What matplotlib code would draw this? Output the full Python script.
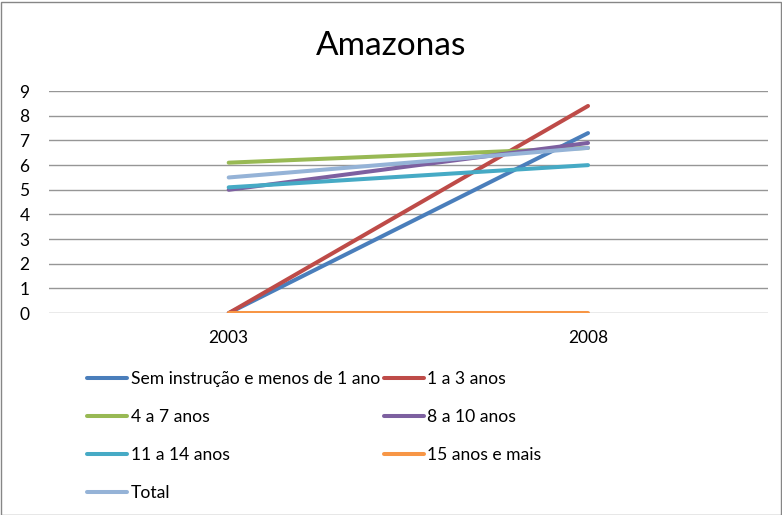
#!/usr/bin/env python3
"""Amazonas: line chart of two survey years by schooling group."""

import matplotlib

matplotlib.use("Agg")
import matplotlib.pyplot as plt
from matplotlib.patches import Rectangle

plt.rcParams["font.family"] = ["Lato", "DejaVu Sans"]

YEARS = ["2003", "2008"]
SERIES_NAMES = [
    "Sem instrução e menos de 1 ano",
    "1 a 3 anos",
    "4 a 7 anos",
    "8 a 10 anos",
    "11 a 14 anos",
    "15 anos e mais",
    "Total",
]
SEM_INSTRUCAO = [0.0, 7.3]
ANOS_1_3 = [0.0, 8.4]
ANOS_4_7 = [6.1, 6.7]
ANOS_8_10 = [5.0, 6.9]
ANOS_11_14 = [5.1, 6.0]
ANOS_15_MAIS = [0.0, 0.0]
TOTAL = [5.5, 6.7]
Y_TICKS = list(range(0, 10))

COLORS = ["#4A7EBB", "#BE4B48", "#98B954", "#7D60A0", "#46AAC5", "#F79646", "#95B3D7"]


def main() -> None:
    values = [SEM_INSTRUCAO, ANOS_1_3, ANOS_4_7, ANOS_8_10, ANOS_11_14, ANOS_15_MAIS, TOTAL]

    fig = plt.figure(figsize=(7.82, 5.15), dpi=100)
    ax = fig.add_axes([0.0627, 0.392, 0.919, 0.431])

    x = list(range(len(YEARS)))
    handles = []
    for name, vals, color in zip(SERIES_NAMES, values, COLORS):
        (line,) = ax.plot(x, vals, color=color, linewidth=2.9, label=name,
                          solid_capstyle="round")
        handles.append(line)

    ax.set_xlim(-0.5, len(YEARS) - 0.5)
    ax.set_ylim(0, 9)
    ax.set_xticks(x)
    ax.set_xticklabels(YEARS)
    ax.set_yticks(Y_TICKS)
    ax.tick_params(axis="both", length=0, labelsize=12.5, colors="#000000")
    ax.tick_params(axis="x", pad=12)
    ax.tick_params(axis="y", pad=14)
    ax.grid(True, axis="y", color="#969696", linewidth=1.0)
    ax.set_axisbelow(True)
    for spine in ax.spines.values():
        spine.set_visible(False)

    fig.text(0.5, 1 - 46 / 515, "Amazonas", ha="center", va="center", fontsize=24)

    # Excel fills the legend row by row; matplotlib fills column by column
    order = [0, 2, 4, 6, 1, 3, 5]
    fig.legend(
        [handles[i] for i in order],
        [SERIES_NAMES[i] for i in order],
        ncol=2,
        loc="upper left",
        bbox_to_anchor=(87 / 782, 1 - 371 / 515),
        frameon=False,
        fontsize=12.6,
        handlelength=2.3,
        handletextpad=0.2,
        columnspacing=0.2,
        labelspacing=1.25,
        borderpad=0,
        borderaxespad=0,
    )

    fig.add_artist(Rectangle((0.5 / 782, 0.5 / 515), 780 / 782, 513 / 515,
                             transform=fig.transFigure, fill=False,
                             edgecolor="#868686", linewidth=1.0))
    fig.savefig("out.png", dpi=100)
    plt.close(fig)


if __name__ == "__main__":
    main()
